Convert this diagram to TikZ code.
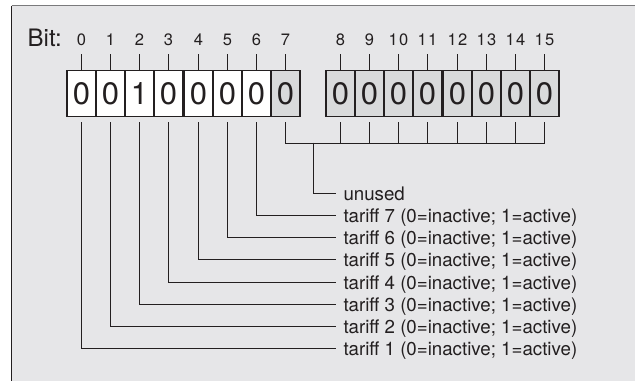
\documentclass[tikz,border=0pt]{standalone}
\usepackage{fontspec}
\setmainfont{TeX Gyre Heros}
\newfontfamily\bitnumfont[LetterSpace=8]{TeX Gyre Heros}
\usetikzlibrary{calc}
\definecolor{bg}{HTML}{E6E6E8}
\definecolor{shade}{HTML}{D9DADB}
\definecolor{ink}{HTML}{231F20}
\definecolor{frametop}{HTML}{7A7A7C}
\begin{document}
\begin{tikzpicture}[x=1pt,y=-1pt,
  cell/.style={draw=ink, line width=1.3pt, minimum width=29.2pt, minimum height=46pt, inner sep=0pt, text=ink, font=\fontsize{31}{31}\selectfont, fill=white},
  shadedcell/.style={cell, fill=shade},
  bitnum/.style={anchor=base, inner sep=0pt, text=ink, font=\bitnumfont\fontsize{16.5}{17}\selectfont},
  lab/.style={anchor=base west, inner sep=0pt, text=ink, font=\fontsize{18.7}{20}\selectfont},
  wire/.style={draw=ink, line width=1.2pt}]
\useasboundingbox (0,0) rectangle (635,381);
\fill[bg] (11.5,5.5) rectangle (635,381);
\draw[line width=1.5pt, frametop] (11.5,5.5) -- (635,5.5);
\draw[line width=1.3pt, ink] (11.5,5.5) -- (11.5,381);
\node[anchor=base west, inner sep=0pt, text=ink, font=\fontsize{24}{26}\selectfont] (bit) at (27.5,46.5) {Bit:};
% cells
\foreach \i/\v in {0/0,1/0,2/1,3/0,4/0,5/0,6/0} {
  \pgfmathsetmacro{\cx}{floor(66.7+29.2*(\i+0.5))+0.5}
  \node[cell] (c\i) at (\cx,93.5) {\v};
}
\pgfmathsetmacro{\cx}{floor(66.7+29.2*7.5)+0.5}
\node[shadedcell] (c7) at (\cx,93.5) {0};
\foreach \i in {8,...,15} {
  \pgfmathsetmacro{\cx}{floor(325.7+29.2*(\i-7.5))+0.5}
  \node[shadedcell] (c\i) at (\cx,93.5) {0};
}
% bit numbers and ticks
\foreach \i in {0,...,15} {
  \node[bitnum] (b\i) at ($(c\i.north)+(0,-24)$) {\i};
  \draw[wire] (c\i.north) -- ($(b\i.south)+(0,7.5)$);
}
% bus of unused bits
\draw[wire] ($(c7.south)+(0,5)$) -- ($(c7.south)+(0,26)$) -- ($(c15.south)+(0,26)$) -- ($(c15.south)+(0,5)$);
\foreach \i in {8,...,14}
  \draw[wire] ($(c\i.south)+(0,5)$) -- ($(c\i.south)+(0,26)$);
\coordinate (j) at (313.5,142.5);
% labels
\node[lab] (t0) at (343.3,200) {unused};
\draw[wire] (j) |- ($(t0.base west)+(-7.3,-6.5)$);
\foreach \n in {1,...,7} {
  \pgfmathtruncatemacro{\k}{\n-1}
  \pgfmathsetmacro{\ly}{floor(193.3+22.2*(8-\n))+0.5+6.5}
  \node[lab] (t\n) at (343.3,\ly) {tariff \n\ (0=inactive; 1=active)};
  \draw[wire] ($(c\k.south)+(0,5)$) |- ($(t\n.base west)+(-7.3,-6.5)$);
}
\end{tikzpicture}
\end{document}
